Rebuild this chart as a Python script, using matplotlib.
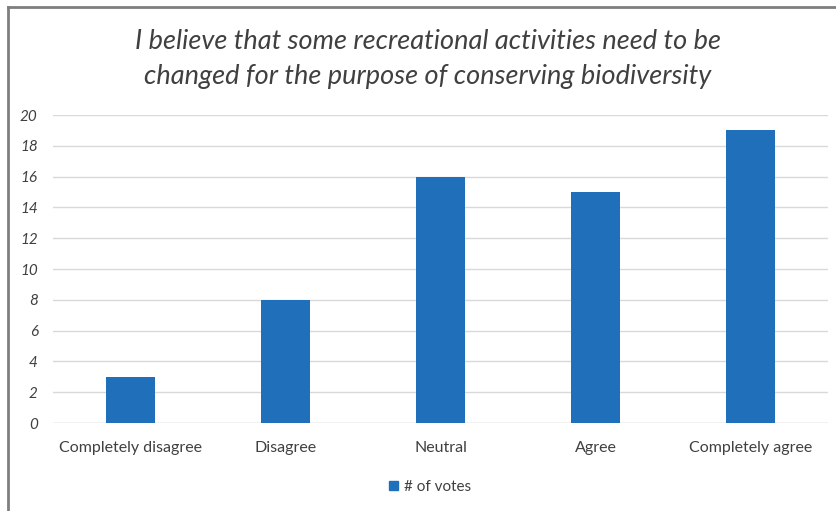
import matplotlib
matplotlib.use("Agg")
import matplotlib.pyplot as plt
from matplotlib.lines import Line2D

categories = ["Completely disagree", "Disagree", "Neutral", "Agree", "Completely agree"]
votes = [3, 8, 16, 15, 19]
yticks = [0, 2, 4, 6, 8, 10, 12, 14, 16, 18, 20]
series_name = "# of votes"
title = "I believe that some recreational activities need to be\nchanged for the purpose of conserving biodiversity"

plt.rcParams['font.family'] = ['Lato', 'DejaVu Sans']
W, H = 836, 511
fig = plt.figure(figsize=(W/100, H/100), dpi=100)
ax = fig.add_axes([53/W, 1-423/H, (828-53)/W, (423-115)/H])

bar_color = "#1f6fba"
ax.bar(range(len(categories)), votes, width=0.31, color=bar_color, zorder=3, label=series_name)
ax.set_xlim(-0.5, len(categories)-0.5)
ax.set_ylim(0, 20)
ax.set_yticks(yticks)
ax.set_yticklabels([str(t) for t in yticks], fontstyle='italic', fontsize=11, color="#404040")
ax.set_xticks(range(len(categories)))
ax.set_xticklabels(categories, fontsize=11.5, color="#404040")
ax.tick_params(axis='both', length=0)
ax.tick_params(axis='x', pad=13)
ax.tick_params(axis='y', pad=11)
ax.grid(axis='y', color="#d9d9d9", linewidth=1, zorder=0)
for s in ax.spines.values():
    s.set_visible(False)
ax.axhline(0, color="#d9d9d9", linewidth=1, zorder=2)

fig.text(428/W, 1-59/H, title, ha='center', va='center', fontsize=19.5, fontstyle='italic',
         color="#404040", linespacing=1.5)

leg = fig.legend(handles=[plt.Rectangle((0, 0), 1, 1, color=bar_color)], labels=[series_name],
                 loc='center', bbox_to_anchor=(430/W, 1-487/H), frameon=False, fontsize=11,
                 handlelength=0.6, handleheight=0.6, handletextpad=0.4)
for t in leg.get_texts():
    t.set_color("#404040")

fig.add_artist(Line2D([8/W, 8/W], [0, 1-7.5/H], transform=fig.transFigure, color="#7f7f7f", linewidth=2))
fig.add_artist(Line2D([8/W, 1], [1-7.5/H, 1-7.5/H], transform=fig.transFigure, color="#7f7f7f", linewidth=2))

fig.savefig("out.png", dpi=100)
